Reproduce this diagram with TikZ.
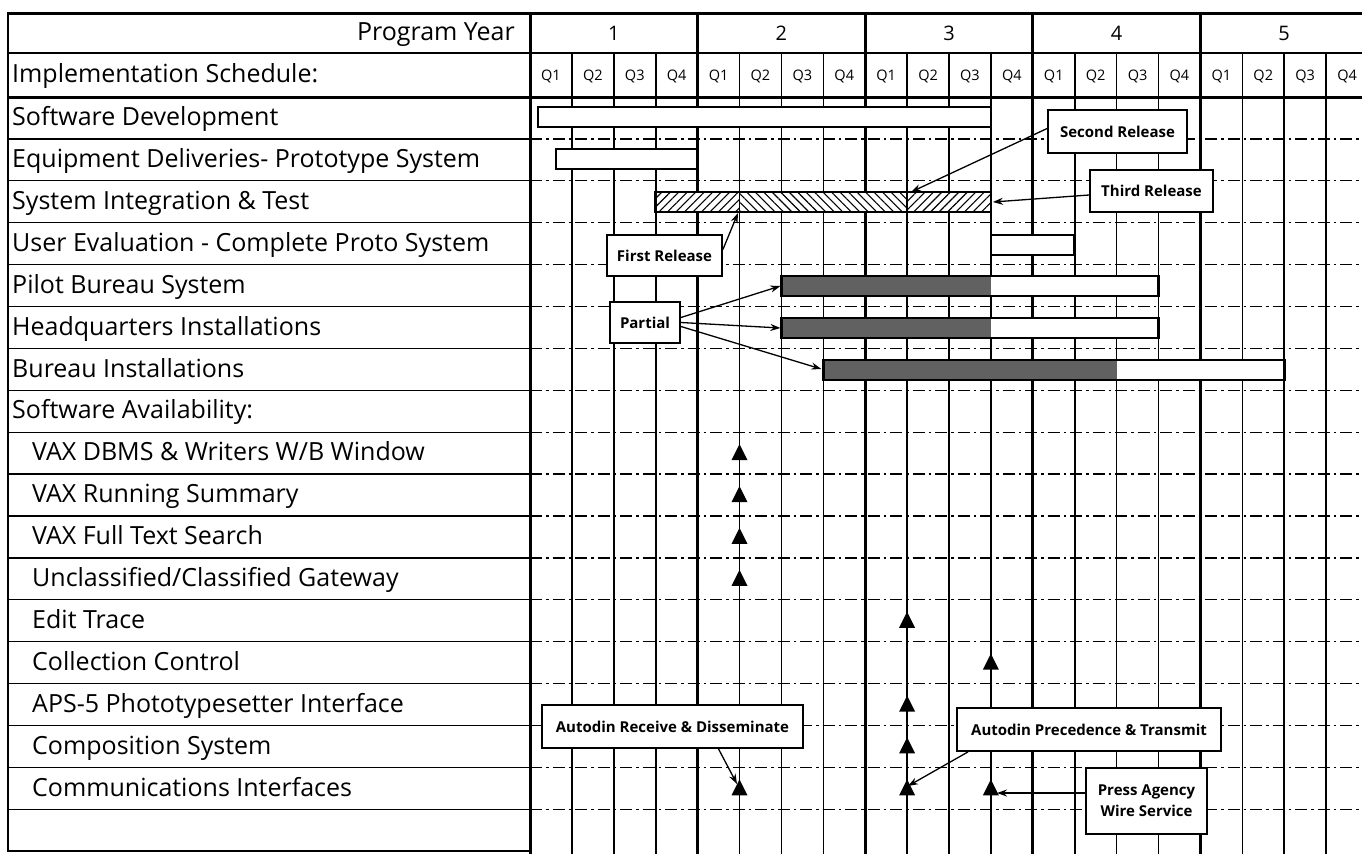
\documentclass[tikz,border=0pt]{standalone}
\usepackage{fontspec}
\setmainfont{Open Sans}
\usetikzlibrary{patterns,patterns.meta,arrows.meta}
\begin{document}
\begin{tikzpicture}[x=1pt,y=-1pt,
  lbl/.style={anchor=mid west,inner sep=0pt,yshift=-5pt,font=\fontsize{25}{27}\selectfont},
  qlbl/.style={inner sep=0pt,font=\fontsize{14.5}{16}\selectfont},
  ylbl/.style={inner sep=0pt,font=\fontsize{20}{22}\selectfont},
  rowline/.style={line width=1.3pt},
  dashdot/.style={line width=1.3pt,dash pattern=on 12pt off 4pt on 2.5pt off 4pt},
  qline/.style={line width=1.6pt},
  yline/.style={line width=3pt},
  bar/.style={draw,line width=2.8pt,fill=white},
  callout/.style={draw,line width=1.8pt,fill=white,inner sep=0pt,align=center,
    font=\bfseries\fontsize{15}{21}\selectfont},
  arr/.style={-{Stealth[length=10pt,width=7pt]},line width=1.3pt},
  partfill/.style={fill=black!62},
]
\useasboundingbox (0,0) rectangle (1362,854);
\fill[white] (0,0) rectangle (1362,854);
\clip (0,0) rectangle (1362,854);

% ---- grid: dash-dot row lines
\foreach \k in {1,...,17}
  \draw[dashdot] (530,{97+41.9*\k}) -- (1362,{97+41.9*\k});
% ---- left table row lines
\foreach \k in {1,...,17}
  \draw[rowline] (8,{97+41.9*\k}) -- (530,{97+41.9*\k});
% ---- quarter lines
\foreach \i in {1,2,3,5,6,7,9,10,11,13,14,15,17,18,19}
  \draw[qline] ({530+41.9*\i},53) -- ({530+41.9*\i},854);
% ---- year lines
\foreach \i in {4,8,12,16,20}
  \draw[yline] ({530+41.9*\i},13) -- ({530+41.9*\i},854);
% ---- header lines
\draw[yline] (8,13) -- (1362,13);
\draw[line width=2.2pt] (8,53) -- (1362,53);
\draw[yline] (8,97) -- (1362,97);
% ---- left table border
\draw[line width=2.6pt] (8,13) rectangle (530,851);
\draw[yline] (530,13) -- (530,854);

% ---- header labels
\node[lbl,anchor=mid east] (py) at (515,33) {Program Year};
\foreach \j/\n in {0/1,1/2,2/3,3/4,4/5}
  \node[ylbl] (year\n) at ({530+41.9*(4*\j+2)},33) {\n};
\foreach \i in {0,...,19}{
  \pgfmathtruncatemacro{\q}{mod(\i,4)+1}
  \node[qlbl] (q\i) at ({530+41.9*(\i+0.5)},76) {Q\q};
}
\node[lbl] (impl) at (12,75) {Implementation Schedule:};

% ---- row labels
\node[lbl] (l0) at (12,{97+41.9*0.5}) {Software Development};
\node[lbl] (l1) at (12,{97+41.9*1.5}) {Equipment Deliveries- Prototype System};
\node[lbl] (l2) at (12,{97+41.9*2.5}) {System Integration \& Test};
\node[lbl] (l3) at (12,{97+41.9*3.5}) {User Evaluation - Complete Proto System};
\node[lbl] (l4) at (12,{97+41.9*4.5}) {Pilot Bureau System};
\node[lbl] (l5) at (12,{97+41.9*5.5}) {Headquarters Installations};
\node[lbl] (l6) at (12,{97+41.9*6.5}) {Bureau Installations};
\node[lbl] (l7) at (12,{97+41.9*7.5}) {Software Availability:};
\node[lbl] (l8) at (32,{97+41.9*8.5}) {VAX DBMS \& Writers W/B Window};
\node[lbl] (l9) at (32,{97+41.9*9.5}) {VAX Running Summary};
\node[lbl] (l10) at (32,{97+41.9*10.5}) {VAX Full Text Search};
\node[lbl] (l11) at (32,{97+41.9*11.5}) {Unclassified/Classified Gateway};
\node[lbl] (l12) at (32,{97+41.9*12.5}) {Edit Trace};
\node[lbl] (l13) at (32,{97+41.9*13.5}) {Collection Control};
\node[lbl] (l14) at (32,{97+41.9*14.5}) {APS-5 Phototypesetter Interface};
\node[lbl] (l15) at (32,{97+41.9*15.5}) {Composition System};
\node[lbl] (l16) at (32,{97+41.9*16.5}) {Communications Interfaces};

% ---- bars
% Software development
\draw[bar] (538,107) rectangle ({530+41.9*11},127);
% Equipment deliveries
\draw[bar] (556,149) rectangle ({530+41.9*4},169);
% System integration (hatched)
\fill[white] ({530+41.9*3},192) rectangle ({530+41.9*11},212);
\fill[pattern={Lines[angle=45,distance=6pt,line width=1.1pt]}] ({530+41.9*3},192) rectangle ({530+41.9*5},212);
\fill[pattern={Lines[angle=-45,distance=6pt,line width=1.1pt]}] ({530+41.9*5},192) rectangle ({530+41.9*9},212);
\fill[pattern={Lines[angle=45,distance=6pt,line width=1.1pt]}] ({530+41.9*9},192) rectangle ({530+41.9*11},212);
\draw[line width=1.5pt] ({530+41.9*5},192) -- ({530+41.9*5},212);
\draw[line width=1.5pt] ({530+41.9*9},192) -- ({530+41.9*9},212);
\draw[line width=2.8pt] ({530+41.9*3},192) rectangle ({530+41.9*11},212);
% User evaluation
\draw[bar] ({530+41.9*11},235) rectangle ({530+41.9*13},255);
% Pilot bureau
\draw[bar] ({530+41.9*6},276) rectangle ({530+41.9*15},296);
\fill[partfill] ({530+41.9*6},276) rectangle ({530+41.9*11},296);
\draw[line width=2.8pt] ({530+41.9*6},276) rectangle ({530+41.9*15},296);
% Headquarters
\draw[bar] ({530+41.9*6},318) rectangle ({530+41.9*15},338);
\fill[partfill] ({530+41.9*6},318) rectangle ({530+41.9*11},338);
\draw[line width=2.8pt] ({530+41.9*6},318) rectangle ({530+41.9*15},338);
% Bureau installations
\draw[bar] ({530+41.9*7},360) rectangle ({530+41.9*18},380);
\fill[partfill] ({530+41.9*7},360) rectangle ({530+41.9*14},380);
\draw[line width=2.8pt] ({530+41.9*7},360) rectangle ({530+41.9*18},380);

% ---- availability triangles
\foreach \xi/\k in {5/8,5/9,5/10,5/11,5/16,9/12,9/14,9/15,9/16,11/13,11/16}
  \fill ({530+41.9*\xi},{97+41.9*(\k+0.5)}) +(-8,7) -- +(8,7) -- +(0,-9) -- cycle;

% ---- arrow targets
\coordinate (secT) at (911,192);
\coordinate (thrT) at ({530+41.9*11+2},202);
\coordinate (firT) at (738,213);
\coordinate (pilT) at ({530+41.9*6-1},286);
\coordinate (hqT) at ({530+41.9*6-1},328);
\coordinate (burT) at ({530+41.9*7-2},369);
\coordinate (ardT) at (737,784);
\coordinate (aptT) at (908,786);
\coordinate (prsT) at (997,793);

% ---- callouts
\node[callout,minimum width=139pt,minimum height=43pt] (sec) at (1117.5,131.5) {Second Release};
\node[callout,minimum width=123pt,minimum height=42pt] (thr) at (1151.5,191) {Third Release};
\node[callout,minimum width=115pt,minimum height=41pt] (fir) at (664.5,255.5) {First Release};
\node[callout,minimum width=70pt,minimum height=41pt] (par) at (645,322.5) {Partial};
\node[callout,minimum width=261pt,minimum height=43pt] (ard) at (672.5,726.5) {Autodin Receive \& Disseminate};
\node[callout,minimum width=264pt,minimum height=43pt] (apt) at (1089,729.5) {Autodin Precedence \& Transmit};
\node[callout,minimum width=121pt,minimum height=66pt] (prs) at (1146.5,801) {Press Agency\\Wire Service};

% ---- connectors
\draw[arr] ([yshift=3pt]sec.west) -- (secT);
\draw[arr] ([yshift=-4pt]thr.west) -- (thrT);
\draw[arr] ([yshift=6pt]fir.east) -- (firT);
\draw[arr] ([yshift=5pt]par.east) -- (pilT);
\draw[arr] (par.east) -- (hqT);
\draw[arr] ([yshift=-4pt]par.east) -- (burT);
\draw[arr] ([xshift=46pt]ard.south) -- (ardT);
\draw[arr] ([xshift=-121pt]apt.south) -- (aptT);
\draw[arr] ([yshift=8pt]prs.west) -- (prsT);
\end{tikzpicture}
\end{document}
